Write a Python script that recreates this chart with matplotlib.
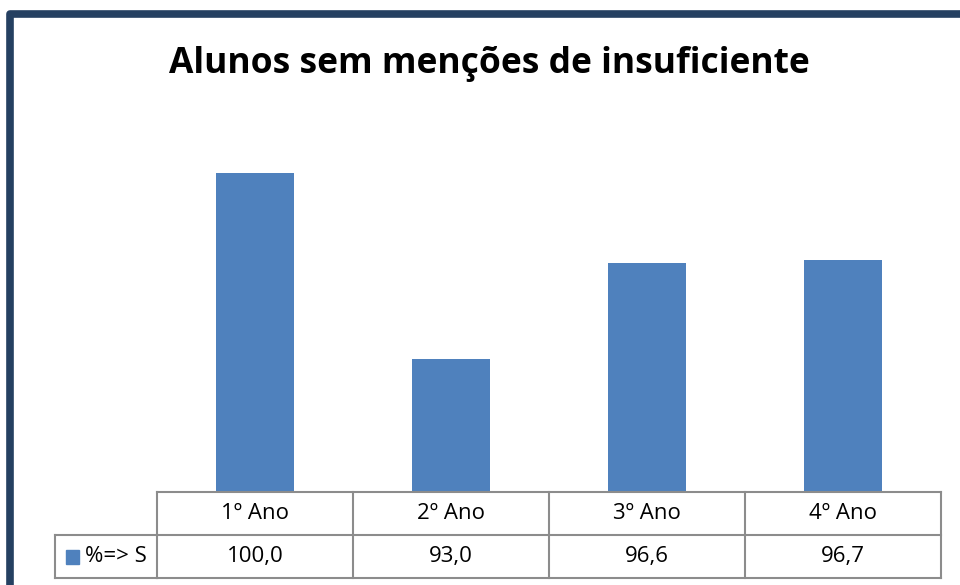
import matplotlib.pyplot as plt
from matplotlib.patches import Rectangle

# data
anos = ['1º Ano', '2º Ano', '3º Ano', '4º Ano']
valores = [100.0, 93.0, 96.6, 96.7]
rotulos = ['100,0', '93,0', '96,6', '96,7']
serie = '%=> S'
titulo = 'Alunos sem menções de insuficiente'

W, H = 960, 585
fig = plt.figure(figsize=(W / 100, H / 100), dpi=100)
plt.rcParams['font.family'] = ['Open Sans', 'DejaVu Sans']

# outer frame (cut off at right and bottom like the original)
fig.add_artist(Rectangle((9.5 / W, -0.1), 1.2, 1 - 13.5 / H + 0.1, transform=fig.transFigure,
                         fill=False, ec='#254061', lw=5.5, joinstyle='round'))

fig.text(489 / W, 1 - 64 / H, titulo, ha='center', va='center', fontsize=25.5, fontweight='bold')

# plot area
ax = fig.add_axes([157 / W, 1 - 492 / H, 784 / W, 346 / H])
x = range(len(anos))
ax.bar(x, valores, width=0.4, color='#4F81BD')
ax.set_xlim(-0.5, len(anos) - 0.5)
ax.set_ylim(88, 101)
ax.axis('off')

# data table under the bars
tr = ax.get_xaxis_transform()
rh = 43 / 346
gc = '#8c8c8c'
leg_left = -0.5 - 102 / 196
kw = dict(transform=tr, clip_on=False, color=gc, lw=1.5)
for yy in [0, -rh, -2 * rh]:
    ax.plot([-0.5, 3.5], [yy, yy], **kw)
ax.plot([leg_left, -0.5], [-rh, -rh], **kw)
ax.plot([leg_left, -0.5], [-2 * rh, -2 * rh], **kw)
ax.plot([leg_left, leg_left], [-rh, -2 * rh], **kw)
for i in range(len(anos) + 1):
    ax.plot([i - 0.5, i - 0.5], [0, -2 * rh], **kw)

for i, (a, r) in enumerate(zip(anos, rotulos)):
    ax.text(i, -0.5 * rh, a, transform=tr, ha='center', va='center', fontsize=16)
    ax.text(i, -1.5 * rh, r, transform=tr, ha='center', va='center', fontsize=16)

ax.add_patch(Rectangle((leg_left + 11 / 196, -1.5 * rh - 7 / 346), 13 / 196, 14 / 346,
                       transform=tr, clip_on=False, color='#4F81BD'))
ax.text(leg_left + 30 / 196, -1.5 * rh, serie, transform=tr, ha='left', va='center', fontsize=16)

fig.savefig('out.png', dpi=100)
